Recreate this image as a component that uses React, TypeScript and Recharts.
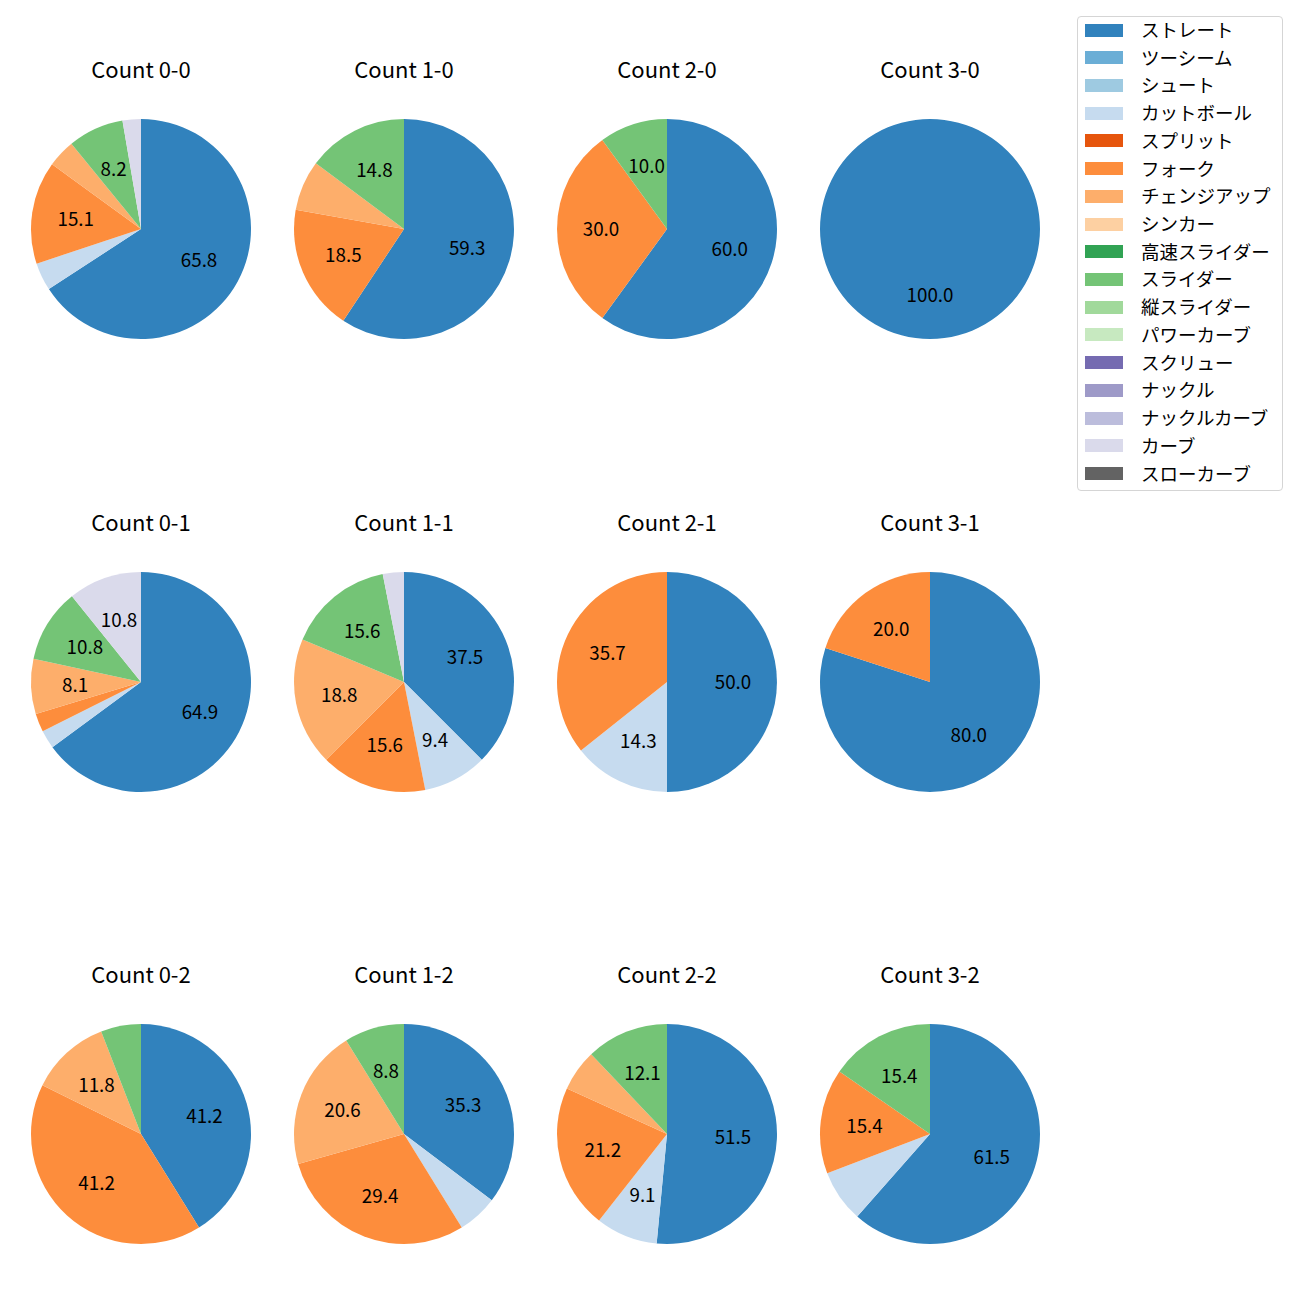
import { PieChart, Pie, Cell } from 'recharts'

const pitchTypes = [
  'ストレート', 'ツーシーム', 'シュート', 'カットボール', 'スプリット', 'フォーク',
  'チェンジアップ', 'シンカー', '高速スライダー', 'スライダー', '縦スライダー',
  'パワーカーブ', 'スクリュー', 'ナックル', 'ナックルカーブ', 'カーブ', 'スローカーブ',
]

const pitchColors = [
  '#3182bd', '#6baed6', '#9ecae1', '#c6dbef', '#e6550d', '#fd8d3c',
  '#fdae6b', '#fdd0a2', '#31a354', '#74c476', '#a1d99b', '#c7e9c0',
  '#756bb1', '#9e9ac8', '#bcbddc', '#dadaeb', '#636363',
]

// share (%) of each pitch type, in pitchTypes order
const count00 = [65.8, 0, 0, 4.1, 0, 15.1, 4.1, 0, 0, 8.2, 0, 0, 0, 0, 0, 2.7, 0]
const count10 = [59.3, 0, 0, 0, 0, 18.5, 7.4, 0, 0, 14.8, 0, 0, 0, 0, 0, 0, 0]
const count20 = [60.0, 0, 0, 0, 0, 30.0, 0, 0, 0, 10.0, 0, 0, 0, 0, 0, 0, 0]
const count30 = [100.0, 0, 0, 0, 0, 0, 0, 0, 0, 0, 0, 0, 0, 0, 0, 0, 0]
const count01 = [64.9, 0, 0, 2.7, 0, 2.7, 8.1, 0, 0, 10.8, 0, 0, 0, 0, 0, 10.8, 0]
const count11 = [37.5, 0, 0, 9.4, 0, 15.6, 18.8, 0, 0, 15.6, 0, 0, 0, 0, 0, 3.1, 0]
const count21 = [50.0, 0, 0, 14.3, 0, 35.7, 0, 0, 0, 0, 0, 0, 0, 0, 0, 0, 0]
const count31 = [80.0, 0, 0, 0, 0, 20.0, 0, 0, 0, 0, 0, 0, 0, 0, 0, 0, 0]
const count02 = [41.2, 0, 0, 0, 0, 41.2, 11.8, 0, 0, 5.9, 0, 0, 0, 0, 0, 0, 0]
const count12 = [35.3, 0, 0, 5.9, 0, 29.4, 20.6, 0, 0, 8.8, 0, 0, 0, 0, 0, 0, 0]
const count22 = [51.5, 0, 0, 9.1, 0, 21.2, 6.1, 0, 0, 12.1, 0, 0, 0, 0, 0, 0, 0]
const count32 = [61.5, 0, 0, 7.7, 0, 15.4, 0, 0, 0, 15.4, 0, 0, 0, 0, 0, 0, 0]

const panels = [
  { title: 'Count 0-0', shares: count00 },
  { title: 'Count 1-0', shares: count10 },
  { title: 'Count 2-0', shares: count20 },
  { title: 'Count 3-0', shares: count30 },
  { title: 'Count 0-1', shares: count01 },
  { title: 'Count 1-1', shares: count11 },
  { title: 'Count 2-1', shares: count21 },
  { title: 'Count 3-1', shares: count31 },
  { title: 'Count 0-2', shares: count02 },
  { title: 'Count 1-2', shares: count12 },
  { title: 'Count 2-2', shares: count22 },
  { title: 'Count 3-2', shares: count32 },
]

const colX = [141, 404, 667, 930]
const rowY = [229, 681.5, 1134]
const R = 110
const FONT = '"Noto Sans CJK JP", "Noto Sans", sans-serif'
const RADIAN = Math.PI / 180

function renderLabel(props: any) {
  const { cx, cy, midAngle, outerRadius, percent, value } = props
  if (percent < 0.08) return null
  const r = outerRadius * 0.6
  const x = cx + r * Math.cos(-midAngle * RADIAN)
  const y = cy + r * Math.sin(-midAngle * RADIAN) - 1.5
  return (
    <text x={x} y={y} fill="#000" textAnchor="middle" dominantBaseline="central"
      style={{ fontSize: 18.8, fontFamily: FONT }}>
      {Number(value).toFixed(1)}
    </text>
  )
}

function PiePanel({ title, shares, cx, cy }: { title: string; shares: number[]; cx: number; cy: number }) {
  const data = pitchTypes
    .map((name, i) => ({ name, value: shares[i], color: pitchColors[i] }))
    .filter(d => d.value > 0)
  return (
    <>
      <div style={{
        position: 'absolute', left: cx - 131, top: cy - 176, width: 262, height: 30,
        lineHeight: '30px', textAlign: 'center', fontSize: 22, fontFamily: FONT, color: '#000',
      }}>{title}</div>
      <div style={{ position: 'absolute', left: cx - 120, top: cy - 120 }}>
        <PieChart width={240} height={240} margin={{ top: 0, right: 0, bottom: 0, left: 0 }}>
          <Pie
            data={data}
            dataKey="value"
            cx="50%"
            cy="50%"
            outerRadius={R}
            startAngle={90}
            endAngle={-270}
            stroke="none"
            labelLine={false}
            label={renderLabel}
            isAnimationActive={false}
          >
            {data.map(d => <Cell key={d.name} fill={d.color} />)}
          </Pie>
        </PieChart>
      </div>
    </>
  )
}

function LegendBox() {
  return (
    <div style={{
      position: 'absolute', left: 1077, top: 16, width: 204, height: 473,
      border: '1px solid #d5d5d5', borderRadius: 4, background: '#fff', fontFamily: FONT,
    }}>
      {pitchTypes.map((name, i) => (
        <div key={name} style={{ position: 'absolute', left: 0, top: 13 + i * 27.72 - 14, height: 28, width: 204 }}>
          <div style={{ position: 'absolute', left: 7, top: 7.5, width: 38, height: 13, background: pitchColors[i] }} />
          <div style={{
            position: 'absolute', left: 63, top: -1, lineHeight: '28px', fontSize: 18.5, color: '#000', whiteSpace: 'nowrap',
          }}>{name}</div>
        </div>
      ))}
    </div>
  )
}

export default function App() {
  return (
    <div style={{ position: 'absolute', left: 0, top: 0, width: 1300, height: 1300, background: '#fff' }}>
      {panels.map((p, i) => (
        <PiePanel key={p.title} title={p.title} shares={p.shares} cx={colX[i % 4]} cy={rowY[Math.floor(i / 4)]} />
      ))}
      <LegendBox />
    </div>
  )
}
